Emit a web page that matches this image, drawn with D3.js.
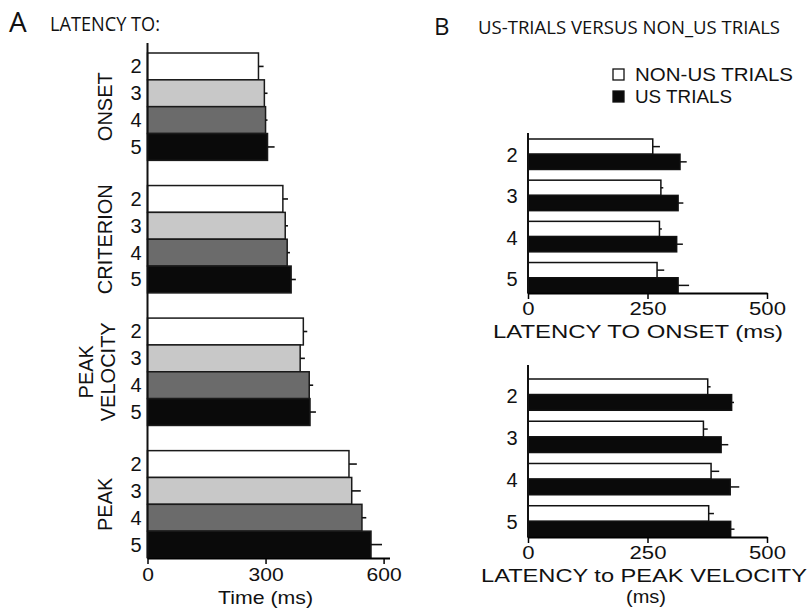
<!DOCTYPE html>
<html>
<head>
<meta charset="utf-8">
<script src="https://cdn.jsdelivr.net/npm/d3@7"></script>
<style>
  body { margin: 0; background: #fff; }
  text { fill: #111; }
</style>
</head>
<body>
<div id="chart"></div>
<script>
// panel A: latency per session, 4 measures
var measures = ["ONSET", "CRITERION", "PEAK VELOCITY", "PEAK"];
var sessions = ["2", "3", "4", "5"];
var onsetMean = [282, 297, 300, 305];
var onsetSe = [13, 8, 5, 18];
var criterionMean = [344, 350, 355, 365];
var criterionSe = [13, 7, 7, 12];
var peakVelMean = [396, 388, 411, 413];
var peakVelSe = [10, 12, 10, 15];
var peakMean = [512, 519, 545, 568];
var peakSe = [20, 23, 11, 28];
var ticksA = [0, 300, 600];

// panel B: non-US vs US trials
var nonUsOnset = [261, 278, 275, 270];
var nonUsOnsetSe = [15, 5, 5, 15];
var usOnset = [318, 314, 311, 314];
var usOnsetSe = [14, 11, 13, 23];
var nonUsPeakVel = [376, 367, 383, 378];
var nonUsPeakVelSe = [6, 9, 17, 11];
var usPeakVel = [426, 404, 423, 424];
var usPeakVelSe = [5, 15, 19, 8];
var ticksB = [0, 250, 500];

var sessionColors = ["#ffffff", "#c8c8c8", "#6b6b6b", "#0a0a0a"];
var font = "'Liberation Sans', Arial, sans-serif";
var titleFont = "'Open Sans', sans-serif";

var svg = d3.select("#chart").append("svg")
    .attr("width", 810)
    .attr("height", 614)
    .style("font-family", font);

// ---------- titles
svg.append("text").attr("x", 9).attr("y", 32).text("A")
    .style("font-family", titleFont).style("font-size", "28px");
svg.append("text").attr("x", 50).attr("y", 31).text("LATENCY TO:")
    .style("font-family", titleFont).style("font-size", "20px")
    .attr("textLength", 110).attr("lengthAdjust", "spacingAndGlyphs");
svg.append("text").attr("x", 434).attr("y", 35).text("B")
    .style("font-family", titleFont).style("font-size", "24px");
svg.append("text").attr("x", 478).attr("y", 34).text("US-TRIALS VERSUS NON_US TRIALS")
    .style("font-family", titleFont).style("font-size", "19px")
    .attr("textLength", 302).attr("lengthAdjust", "spacingAndGlyphs");

// ---------- panel A
var dataA = [
    {name: measures[0], mean: onsetMean, se: onsetSe},
    {name: measures[1], mean: criterionMean, se: criterionSe},
    {name: measures[2], mean: peakVelMean, se: peakVelSe},
    {name: measures[3], mean: peakMean, se: peakSe}
];

var xA = d3.scaleLinear().domain([0, 615]).range([147.5, 389.5]);
var yA = d3.scaleBand().domain(measures).range([53, 558]).paddingInner(0.19).paddingOuter(0);
var yAin = d3.scaleBand().domain(sessions).range([0, yA.bandwidth()]).padding(0);

var gA = svg.append("g");

var groupsA = gA.selectAll("g.measure")
    .data(dataA)
    .enter().append("g")
    .attr("class", "measure")
    .attr("transform", d => "translate(0," + yA(d.name) + ")");

groupsA.each(function (d) {
    var g = d3.select(this);
    var rows = sessions.map((s, i) => ({s: s, i: i, mean: d.mean[i], se: d.se[i]}));

    g.selectAll("rect")
        .data(rows)
        .enter().append("rect")
        .attr("x", xA(0))
        .attr("y", r => yAin(r.s))
        .attr("width", r => xA(r.mean) - xA(0))
        .attr("height", yAin.bandwidth())
        .style("fill", r => sessionColors[r.i])
        .style("stroke", "#1a1a1a")
        .style("stroke-width", 1.5);

    g.selectAll("line.err")
        .data(rows)
        .enter().append("line")
        .attr("class", "err")
        .attr("x1", r => xA(r.mean))
        .attr("x2", r => xA(r.mean + r.se))
        .attr("y1", r => yAin(r.s) + yAin.bandwidth() / 2)
        .attr("y2", r => yAin(r.s) + yAin.bandwidth() / 2)
        .style("stroke", "#111")
        .style("stroke-width", 1.6);

    g.selectAll("text.sess")
        .data(rows)
        .enter().append("text")
        .attr("class", "sess")
        .attr("x", 136)
        .attr("y", r => yAin(r.s) + yAin.bandwidth() / 2)
        .attr("text-anchor", "middle")
        .attr("dominant-baseline", "central")
        .style("font-size", "20px")
        .text(r => r.s);

    // rotated measure label, split on space for two-line
    var words = d.name.split(" ");
    var cy = yA.bandwidth() / 2;
    words.forEach(function (w, k) {
        var cx = words.length > 1 ? 86 + k * 22 : 105;
        g.append("text")
            .attr("transform", "translate(" + cx + "," + cy + ") rotate(-90)")
            .attr("text-anchor", "middle")
            .attr("dominant-baseline", "central")
            .style("font-size", "20px")
            .text(w);
    });
});

// axes A
gA.append("line")
    .attr("x1", xA(0)).attr("x2", xA(0))
    .attr("y1", 43).attr("y2", 558)
    .style("stroke", "#111").style("stroke-width", 2);

var axisA = gA.append("g")
    .attr("transform", "translate(0,558)")
    .call(d3.axisBottom(xA).tickValues(ticksA).tickSize(6).tickSizeOuter(0).tickPadding(4));
axisA.select(".domain").style("stroke-width", 2);
axisA.selectAll(".tick line").style("stroke-width", 1.5);
axisA.selectAll(".tick text").style("font-size", "19px").style("font-family", font)
    .attr("textLength", d => String(d).length * 11.7).attr("lengthAdjust", "spacingAndGlyphs");

gA.append("text")
    .attr("x", xA(300)).attr("y", 604)
    .attr("text-anchor", "middle")
    .style("font-size", "19px")
    .attr("textLength", 95).attr("lengthAdjust", "spacingAndGlyphs")
    .text("Time (ms)");

// ---------- panel B
var xB = d3.scaleLinear().domain([0, 500]).range([528, 767]);
var seriesB = ["nonUs", "us"];
var colorB = {nonUs: "#ffffff", us: "#0a0a0a"};

function drawPanelB(top, bottom, axisTop, nonUs, nonUsSe, us, usSe, label) {
    var g = svg.append("g");
    var y = d3.scaleBand().domain(sessions).range([top, bottom]).paddingInner(0.26).paddingOuter(0);
    var yin = d3.scaleBand().domain(seriesB).range([0, y.bandwidth()]).padding(0);

    var rows = [];
    sessions.forEach(function (s, i) {
        rows.push({s: s, k: "nonUs", mean: nonUs[i], se: nonUsSe[i]});
        rows.push({s: s, k: "us", mean: us[i], se: usSe[i]});
    });

    g.selectAll("rect")
        .data(rows)
        .enter().append("rect")
        .attr("x", xB(0))
        .attr("y", r => y(r.s) + yin(r.k))
        .attr("width", r => xB(r.mean) - xB(0))
        .attr("height", yin.bandwidth())
        .style("fill", r => colorB[r.k])
        .style("stroke", "#111")
        .style("stroke-width", 1.5);

    g.selectAll("line.err")
        .data(rows)
        .enter().append("line")
        .attr("class", "err")
        .attr("x1", r => xB(r.mean))
        .attr("x2", r => xB(r.mean + r.se))
        .attr("y1", r => y(r.s) + yin(r.k) + yin.bandwidth() / 2)
        .attr("y2", r => y(r.s) + yin(r.k) + yin.bandwidth() / 2)
        .style("stroke", "#111")
        .style("stroke-width", 1.5);

    g.selectAll("text.sess")
        .data(sessions)
        .enter().append("text")
        .attr("class", "sess")
        .attr("x", 512)
        .attr("y", s => y(s) + y.bandwidth() / 2 + 1)
        .attr("text-anchor", "middle")
        .attr("dominant-baseline", "central")
        .style("font-size", "20px")
        .text(s => s);

    g.append("line")
        .attr("x1", xB(0)).attr("x2", xB(0))
        .attr("y1", axisTop).attr("y2", bottom)
        .style("stroke", "#111").style("stroke-width", 2);

    var ax = g.append("g")
        .attr("transform", "translate(0," + bottom + ")")
        .call(d3.axisBottom(xB).tickValues(ticksB).tickSize(6).tickSizeOuter(0).tickPadding(3));
    ax.select(".domain").style("stroke-width", 2);
    ax.selectAll(".tick line").style("stroke-width", 1.5);
    ax.selectAll(".tick text").style("font-size", "19px").style("font-family", font)
        .attr("textLength", d => String(d).length * 12.3).attr("lengthAdjust", "spacingAndGlyphs");

    label.forEach(function (l, k) {
        g.append("text")
            .attr("x", l.x).attr("y", bottom + 45 + k * 21)
            .attr("text-anchor", "middle")
            .style("font-size", "19px")
            .attr("textLength", l.w).attr("lengthAdjust", "spacingAndGlyphs")
            .text(l.t);
    });
}

drawPanelB(139, 293, 133, nonUsOnset, nonUsOnsetSe, usOnset, usOnsetSe,
    [{t: "LATENCY TO ONSET (ms)", x: 638, w: 290}]);
drawPanelB(379, 537, 365, nonUsPeakVel, nonUsPeakVelSe, usPeakVel, usPeakVelSe,
    [{t: "LATENCY to PEAK VELOCITY", x: 644, w: 326}, {t: "(ms)", x: 646, w: 40}]);

// legend
var legendItems = [
    {t: "NON-US TRIALS", fill: "#ffffff", w: 158},
    {t: "US TRIALS", fill: "#0a0a0a", w: 97}
];
var legend = svg.append("g").attr("transform", "translate(613,69)");
var le = legend.selectAll("g")
    .data(legendItems)
    .enter().append("g")
    .attr("transform", (d, i) => "translate(0," + i * 22 + ")");
le.append("rect")
    .attr("width", 11).attr("height", 11)
    .style("fill", d => d.fill)
    .style("stroke", "#111").style("stroke-width", 1.3);
le.append("text")
    .attr("x", 22).attr("y", 12)
    .style("font-size", "18px")
    .attr("textLength", d => d.w).attr("lengthAdjust", "spacingAndGlyphs")
    .text(d => d.t);
</script>
</body>
</html>
